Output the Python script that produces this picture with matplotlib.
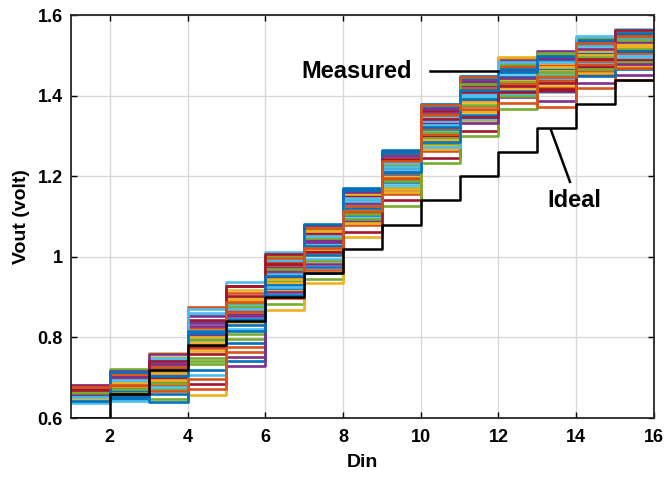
import numpy as np
import matplotlib.pyplot as plt

plt.rcParams['font.family'] = ['Liberation Sans', 'DejaVu Sans']

# Digital input codes
din = np.arange(1, 17)

# Ideal transfer curve (volt)
ideal = [0.60, 0.66, 0.72, 0.78, 0.84, 0.90, 0.96, 1.02,
         1.08, 1.14, 1.20, 1.26, 1.32, 1.38, 1.44, 1.50]

# Measured output for each code, one entry per sample (30 samples)
code01 = [0.662, 0.671, 0.648, 0.657, 0.679, 0.652, 0.666, 0.641, 0.674, 0.660, 0.655, 0.669, 0.645, 0.683, 0.663,
          0.650, 0.677, 0.658, 0.667, 0.638, 0.672, 0.654, 0.661, 0.647, 0.680, 0.665, 0.651, 0.669, 0.643, 0.676]
code02 = [0.648, 0.706, 0.692, 0.676, 0.721, 0.664, 0.699, 0.685, 0.655, 0.710, 0.673, 0.690, 0.641, 0.703, 0.668,
          0.697, 0.679, 0.717, 0.661, 0.693, 0.683, 0.651, 0.708, 0.688, 0.702, 0.671, 0.695, 0.659, 0.714, 0.681]
code03 = [0.731, 0.690, 0.762, 0.715, 0.648, 0.738, 0.697, 0.724, 0.682, 0.752, 0.709, 0.671, 0.745, 0.721, 0.640,
          0.733, 0.712, 0.735, 0.688, 0.748, 0.701, 0.659, 0.727, 0.694, 0.758, 0.718, 0.676, 0.742, 0.705, 0.668]
code04 = [0.840, 0.774, 0.657, 0.806, 0.742, 0.857, 0.684, 0.797, 0.876, 0.802, 0.835, 0.748, 0.861, 0.779, 0.719,
          0.823, 0.766, 0.852, 0.793, 0.707, 0.844, 0.811, 0.671, 0.787, 0.829, 0.735, 0.870, 0.758, 0.816, 0.696]
code05 = [0.846, 0.776, 0.918, 0.858, 0.797, 0.881, 0.928, 0.831, 0.763, 0.897, 0.852, 0.808, 0.938, 0.866, 0.785,
          0.910, 0.839, 0.752, 0.885, 0.822, 0.927, 0.742, 0.862, 0.893, 0.728, 0.876, 0.871, 0.902, 0.815, 0.889]
code06 = [0.988, 0.964, 0.918, 0.976, 0.940, 1.011, 0.950, 0.905, 0.985, 0.936, 0.968, 0.882, 0.993, 0.947, 0.922,
          0.979, 0.867, 0.960, 1.001, 0.958, 0.982, 0.931, 0.997, 0.945, 0.912, 0.971, 0.926, 1.006, 0.953, 0.899]
code07 = [0.961, 1.067, 1.008, 1.043, 0.946, 1.075, 1.015, 0.975, 1.055, 0.936, 1.035, 1.069, 1.031, 1.058, 1.004,
          1.072, 1.019, 0.981, 1.046, 0.995, 1.079, 1.026, 0.968, 1.063, 1.038, 0.989, 1.052, 1.011, 1.082, 1.023]
code08 = [1.090, 1.149, 1.049, 1.131, 1.155, 1.128, 1.151, 1.104, 1.163, 1.117, 1.088, 1.142, 1.097, 1.169, 1.122,
          1.079, 1.157, 1.134, 1.093, 1.146, 1.110, 1.170, 1.125, 1.084, 1.160, 1.107, 1.138, 1.062, 1.166, 1.113]
code09 = [1.185, 1.254, 1.199, 1.166, 1.229, 1.178, 1.262, 1.205, 1.156, 1.246, 1.220, 1.172, 1.233, 1.192, 1.264,
          1.208, 1.160, 1.250, 1.188, 1.224, 1.141, 1.258, 1.196, 1.169, 1.241, 1.127, 1.215, 1.243, 1.211, 1.238]
code10 = [1.316, 1.262, 1.359, 1.331, 1.279, 1.346, 1.299, 1.380, 1.319, 1.267, 1.364, 1.295, 1.336, 1.246, 1.372,
          1.305, 1.276, 1.355, 1.234, 1.326, 1.362, 1.322, 1.351, 1.291, 1.368, 1.309, 1.272, 1.341, 1.284, 1.377]
code11 = [1.448, 1.388, 1.336, 1.433, 1.364, 1.405, 1.312, 1.441, 1.374, 1.345, 1.424, 1.301, 1.395, 1.430, 1.391,
          1.420, 1.360, 1.437, 1.378, 1.341, 1.410, 1.353, 1.446, 1.385, 1.331, 1.428, 1.400, 1.348, 1.415, 1.368]
code12 = [1.490, 1.432, 1.406, 1.475, 1.367, 1.450, 1.481, 1.446, 1.472, 1.418, 1.487, 1.436, 1.403, 1.463, 1.412,
          1.494, 1.441, 1.396, 1.479, 1.455, 1.409, 1.467, 1.428, 1.496, 1.443, 1.399, 1.483, 1.423, 1.459, 1.381]
code13 = [1.414, 1.476, 1.425, 1.512, 1.452, 1.408, 1.491, 1.467, 1.420, 1.480, 1.439, 1.505, 1.455, 1.411, 1.495,
          1.436, 1.471, 1.386, 1.502, 1.444, 1.417, 1.487, 1.373, 1.462, 1.493, 1.458, 1.484, 1.431, 1.499, 1.447]
code14 = [1.506, 1.460, 1.519, 1.479, 1.544, 1.494, 1.452, 1.534, 1.475, 1.510, 1.432, 1.541, 1.483, 1.457, 1.526,
          1.419, 1.501, 1.532, 1.497, 1.523, 1.471, 1.538, 1.486, 1.455, 1.515, 1.465, 1.547, 1.492, 1.449, 1.530]
code15 = [1.552, 1.493, 1.528, 1.451, 1.559, 1.501, 1.475, 1.544, 1.440, 1.519, 1.550, 1.515, 1.541, 1.489, 1.556,
          1.505, 1.473, 1.533, 1.483, 1.565, 1.510, 1.466, 1.548, 1.524, 1.478, 1.537, 1.497, 1.562, 1.512, 1.469]
code16 = [1.540, 1.555, 1.525, 1.565, 1.535, 1.515, 1.550, 1.520, 1.570, 1.538, 1.510, 1.560, 1.545, 1.518, 1.552,
          1.530, 1.568, 1.540, 1.512, 1.562, 1.528, 1.548, 1.500, 1.566, 1.532, 1.516, 1.556, 1.495, 1.542, 1.558]

measured = np.array([code01, code02, code03, code04, code05, code06, code07, code08,
                     code09, code10, code11, code12, code13, code14, code15, code16])

matlab_colors = ['#0072BD', '#D95319', '#EDB120', '#7E2F8E', '#77AC30', '#4DBEEE', '#A2142F']

fig = plt.figure(figsize=(6.67, 4.78), dpi=100)
ax = fig.add_axes([0.1064, 0.1255, 0.874, 0.843])

for k in range(measured.shape[1]):
    ax.step(din, measured[:, k], where='post', lw=1.9,
            color=matlab_colors[k % len(matlab_colors)], zorder=2)

ax.step(din, ideal, where='post', color='black', lw=1.8, zorder=3)

# labels with leader lines
ax.plot([10.24, 11.99], [1.461, 1.461], color='black', lw=1.8, zorder=4)
ax.plot([13.35, 13.84], [1.315, 1.186], color='black', lw=1.8, zorder=4)
ax.text(8.36, 1.459, 'Measured', fontsize=17, fontweight='bold',
        ha='center', va='center')
ax.text(13.94, 1.141, 'Ideal', fontsize=17, fontweight='bold',
        ha='center', va='center')

ax.set_xlim(1, 16)
ax.set_ylim(0.6, 1.6)
ax.set_xticks([2, 4, 6, 8, 10, 12, 14, 16])
ax.set_yticks([0.6, 0.8, 1.0, 1.2, 1.4, 1.6])
ax.set_yticklabels(['0.6', '0.8', '1', '1.2', '1.4', '1.6'])
ax.tick_params(direction='in', top=True, right=True, length=4, width=1.0,
               labelsize=13)
ax.tick_params(axis='x', pad=8)
ax.tick_params(axis='y', pad=6)
for lab in ax.get_xticklabels() + ax.get_yticklabels():
    lab.set_fontweight('bold')
ax.grid(True, color='#d8d8d8', lw=1.0, zorder=0)
ax.set_axisbelow(True)
for sp in ax.spines.values():
    sp.set_linewidth(1.3)
    sp.set_color('#262626')

ax.set_xlabel('Din', fontsize=14, fontweight='bold', labelpad=6)
ax.set_ylabel('Vout (volt)', fontsize=14, fontweight='bold', labelpad=5)

fig.savefig('out.png', dpi=100)
